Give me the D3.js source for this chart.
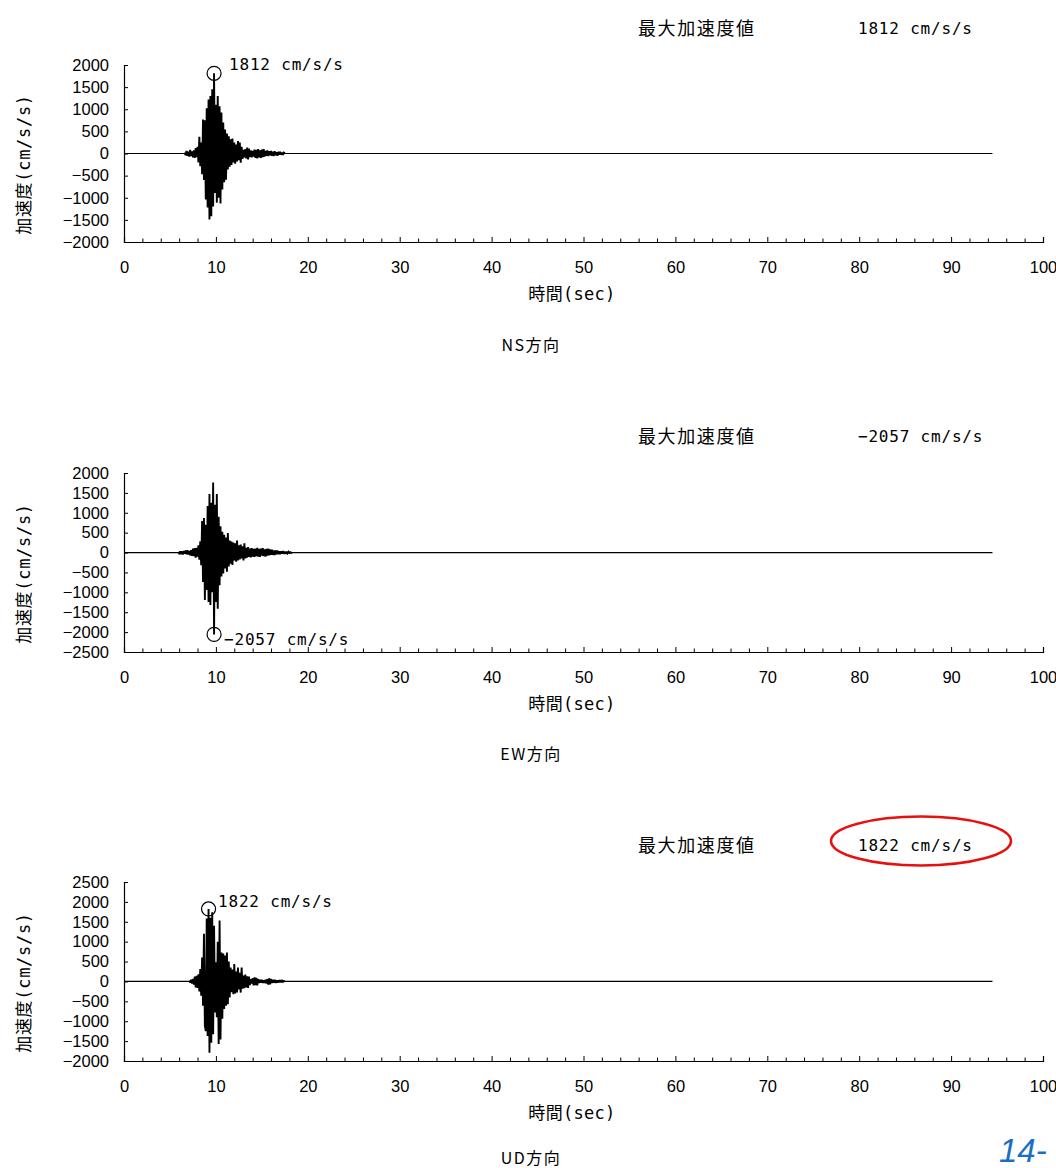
<!DOCTYPE html>
<html><head><meta charset="utf-8">
<script src="https://cdn.jsdelivr.net/npm/d3@7"></script>
<style>
html,body{margin:0;padding:0;background:#fff;}
svg{display:block;}
</style></head>
<body>
<svg id="chart" width="1056" height="1168"></svg>
<script>
// ---------------- DATA ----------------
const xTicks = [0,10,20,30,40,50,60,70,80,90,100];
const xMinorTicks = [2,4,6,8,12,14,16,18,22,24,26,28,32,34,36,38,42,44,46,48,52,54,56,58,62,64,66,68,72,74,76,78,82,84,86,88,92,94,96,98];
const recordEnd = 94.5;          // seconds
const sampleStep = 0.1;          // seconds between plotted samples

const nsTicks = [-2000,-1500,-1000,-500,0,500,1000,1500,2000];
const ewTicks = [-2500,-2000,-1500,-1000,-500,0,500,1000,1500,2000];
const udTicks = [-2000,-1500,-1000,-500,0,500,1000,1500,2000,2500];

const directions = ["NS方向","EW方向","UD方向"];
const peakTimes  = [9.8, 9.8, 9.2];
const peakValues = [1812, -2057, 1822];

const nsStart = 6.6;
const nsValues = [20,-40,60,-50,40,-70,80,-60,50,-90,70,-100,120,-80,150,-200,380,-290,250,-470,
 770,-600,750,-1040,1020,-1220,1220,-1490,1300,-1420,1450,-1200,1812,-890,1100,-1115,1300,-1000,1070,-1130,
 925,-815,700,-650,540,-590,450,-360,390,-300,320,-260,340,-200,250,-230,200,-180,280,-150,
 250,-210,150,-120,80,-90,100,-110,135,-135,110,-80,70,-90,60,-70,90,-100,80,-110,
 100,-90,70,-100,90,-80,100,-70,60,-50,70,-60,50,-40,60,-50,40,-60,50,-40,
 30,-50,40,-30,40,-30,20,-30,20,0];

const ewStart = 5.9;
const ewValues = [10,-20,30,-40,30,-50,40,-30,50,-40,60,-50,40,-70,60,-80,100,-90,110,-130,
 120,-100,180,-180,280,-320,790,-740,870,-1190,700,-940,1170,-1245,1470,-1320,1250,-1000,1760,-2057,
 1200,-1245,1470,-1415,900,-820,660,-600,520,-525,450,-400,380,-480,490,-350,300,-280,280,-310,
 250,-200,230,-230,300,-200,180,-170,200,-150,160,-200,230,-150,120,-130,140,-110,100,-120,
 110,-100,90,-110,100,-90,120,-100,90,-110,100,-80,110,-90,80,-100,90,-80,100,-70,
 80,-60,70,-60,50,-60,50,-40,50,-40,30,-40,30,-30,40,-30,20,-30,20,-20,
 20,-10,10,-10,0];

const udStart = 7.1;
const udValues = [20,-30,40,-50,60,-80,120,-150,140,-160,180,-250,310,-360,600,-610,1200,-1120,-1250,1580,
 -1370,1822,-1790,1600,-1540,1740,-1330,1400,-780,480,-900,1000,-1575,1530,-1460,730,-940,700,-690,650,
 -610,730,-570,500,-400,350,-270,300,-320,440,-300,250,-280,350,-200,220,-280,350,-180,150,
 -170,170,-150,130,-160,120,-90,60,-50,80,-100,100,-90,90,-100,60,-40,40,-30,40,
 -40,30,-40,40,-50,60,-80,80,-70,60,-40,40,-30,40,-40,30,-30,30,-20,30,
 -20,20,-10,10,0];

// ---------------- LAYOUT ----------------
const svg = d3.select("#chart");
svg.append("rect").attr("width",1056).attr("height",1168).attr("fill","#fff");

const monoCJK = "'DejaVu Sans Mono','Noto Sans CJK JP',sans-serif";
const cjk = "'Noto Sans CJK JP',sans-serif";
const tickFont = "'Liberation Sans',Arial,sans-serif";

const x = d3.scaleLinear().domain([0,100]).range([124,1043]);

const panels = [
  {ticks: nsTicks, start: nsStart, values: nsValues, top: 65, bottom: 242, lblDx: 15, lblDy: -3, titleDy: 102},
  {ticks: ewTicks, start: ewStart, values: ewValues, top: 473, bottom: 652, lblDx: 10, lblDy: 11, titleDy: 101},
  {ticks: udTicks, start: udStart, values: udValues, top: 882, bottom: 1061, lblDx: 9.5, lblDy: -2, titleDy: 96}
];

const fmt = d3.format("d");

panels.forEach((p, i) => {
  const g = svg.append("g");
  const y = d3.scaleLinear().domain(d3.extent(p.ticks)).range([p.bottom, p.top]);

  // header
  g.append("text").attr("x", 638).attr("y", p.top - 38)
    .attr("dominant-baseline","central")
    .attr("font-family", cjk).attr("font-size", 18).attr("letter-spacing", 1.6)
    .attr("fill","#000").text("最大加速度値");
  const hvX = 858;
  g.append("text").attr("x", hvX).attr("y", p.top - 37)
    .attr("dominant-baseline","central")
    .attr("font-family", monoCJK).attr("font-size", 16).attr("letter-spacing", 0.8)
    .attr("fill","#000").text(fmt(peakValues[i]) + " cm/s/s");

  // y axis
  const yAxis = d3.axisLeft(y).tickValues(p.ticks).tickSize(-4).tickPadding(15).tickFormat(fmt);
  const ya = g.append("g").attr("transform", `translate(${x(0)},0)`).call(yAxis);
  ya.select(".domain").attr("stroke","#000").attr("stroke-width",1.2);
  ya.selectAll(".tick line").attr("stroke","#000");
  ya.selectAll("text").attr("font-family", tickFont).attr("font-size", 16.5).attr("fill","#000");

  // x axis
  const xAxis = d3.axisBottom(x).tickValues(xTicks).tickSize(-5).tickPadding(19).tickFormat(fmt);
  const xa = g.append("g").attr("transform", `translate(0,${p.bottom})`).call(xAxis);
  xa.select(".domain").attr("stroke","#000").attr("stroke-width",1.2);
  xa.selectAll(".tick line").attr("stroke","#000");
  xa.selectAll("text").attr("font-family", tickFont).attr("font-size", 16.5).attr("fill","#000");
  const xMinor = d3.axisBottom(x).tickValues(xMinorTicks).tickSize(-3.5).tickFormat("");
  const xm = g.append("g").attr("transform", `translate(0,${p.bottom})`).call(xMinor);
  xm.select(".domain").remove();
  xm.selectAll(".tick line").attr("stroke","#000");

  // zero baseline over the whole record
  g.append("path").datum([[0,0],[recordEnd,0]])
    .attr("d", d3.line().x(d => x(d[0])).y(d => y(d[1])))
    .attr("fill","none").attr("stroke","#000").attr("stroke-width",1.2);

  // waveform
  const pts = p.values.map((v, k) => [p.start + k*sampleStep, v]);
  g.append("path").datum(pts)
    .attr("d", d3.line().x(d => x(d[0])).y(d => y(d[1])))
    .attr("fill","none").attr("stroke","#000").attr("stroke-width",1.9)
    .attr("stroke-linejoin","miter").attr("stroke-miterlimit",2);

  // peak marker
  const cx = x(peakTimes[i]), cy = y(peakValues[i]);
  g.append("circle").attr("cx", cx).attr("cy", cy).attr("r", 7)
    .attr("fill","none").attr("stroke","#000").attr("stroke-width",1.2);
  g.append("text").attr("x", cx + p.lblDx).attr("y", cy + p.lblDy)
    .attr("font-family", monoCJK).attr("font-size", 16).attr("letter-spacing", 0.8)
    .attr("fill","#000").text(fmt(peakValues[i]) + " cm/s/s");

  // axis titles
  const midY = (p.top + p.bottom) / 2 + 11;
  g.append("text").attr("transform", `translate(23.5,${midY}) rotate(-90)`)
    .attr("text-anchor","middle").attr("dominant-baseline","central")
    .attr("font-family", monoCJK).attr("font-size", 17).attr("letter-spacing", 0.7)
    .attr("fill","#000").text("加速度(cm/s/s)");
  g.append("text").attr("x", 572).attr("y", p.bottom + 52)
    .attr("text-anchor","middle").attr("dominant-baseline","central")
    .attr("font-family", monoCJK).attr("font-size", 17).attr("letter-spacing", 0.3)
    .attr("fill","#000").text("時間(sec)");
  g.append("text").attr("x", 531).attr("y", p.bottom + p.titleDy)
    .attr("text-anchor","middle").attr("dominant-baseline","central")
    .attr("font-family", cjk).attr("font-size", 16).attr("letter-spacing", 1.5)
    .attr("fill","#000").text(directions[i]);

  // red highlight on UD max value
  if (i === 2) {
    g.append("ellipse")
      .attr("cx", hvX + 63).attr("cy", p.top - 41)
      .attr("rx", 90).attr("ry", 24.5)
      .attr("fill","none").attr("stroke","#e8100f").attr("stroke-width",2.6);
  }
});

// page number fragment
svg.append("text").attr("x", 999).attr("y", 1162)
  .attr("font-family","'Liberation Sans',Arial,sans-serif").attr("font-style","italic")
  .attr("font-size", 33).attr("fill","#1a6ec8").text("14-");
</script>
</body></html>
